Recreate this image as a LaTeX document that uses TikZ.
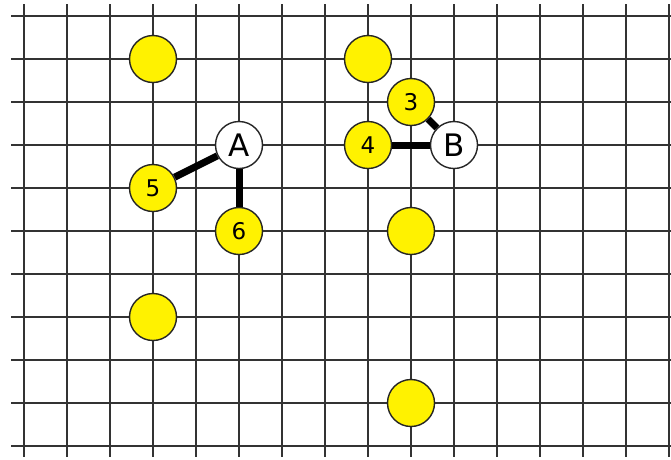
\documentclass[tikz,border=0pt]{standalone}
\usepackage{fontspec}
\setmainfont{DejaVu Sans}
\begin{document}
\begin{tikzpicture}[x=1pt,y=-1pt,
  gridline/.style={line width=1.7pt,black!80},
  dot/.style={circle,draw=black!85,line width=1.4pt,fill=yellow,minimum size=47pt,inner sep=0pt,font=\fontsize{23}{23}\selectfont},
  hub/.style={dot,fill=white,font=\fontsize{31}{31}\selectfont},
  link/.style={line width=7pt,black}]
\useasboundingbox (0,0) rectangle (671,459);
\fill[white] (0,0) rectangle (671,459);
% grid
\foreach \k in {0,...,10} \draw[gridline] (11,16+43*\k) -- (675,16+43*\k);
\foreach \k in {0,...,15} \draw[gridline] (24+43*\k,4) -- (24+43*\k,457);
% vertices
\node[dot] (p1) at (153,59) {};
\node[dot] (p2) at (368,59) {};
\node[dot] (n3) at (411,102) {3};
\node[dot] (n4) at (368,145) {4};
\node[hub] (B) at (454,145) {B};
\node[hub] (A) at (239,145) {A};
\node[dot] (n5) at (153,188) {5};
\node[dot] (n6) at (239,231) {6};
\node[dot] (p3) at (411,231) {};
\node[dot] (p4) at (153,317) {};
\node[dot] (p5) at (411,403) {};
% links
\draw[link] (A) -- (n5);
\draw[link] (A) -- (n6);
\draw[link] (B) -- (n3);
\draw[link] (B) -- (n4);
\end{tikzpicture}
\end{document}
